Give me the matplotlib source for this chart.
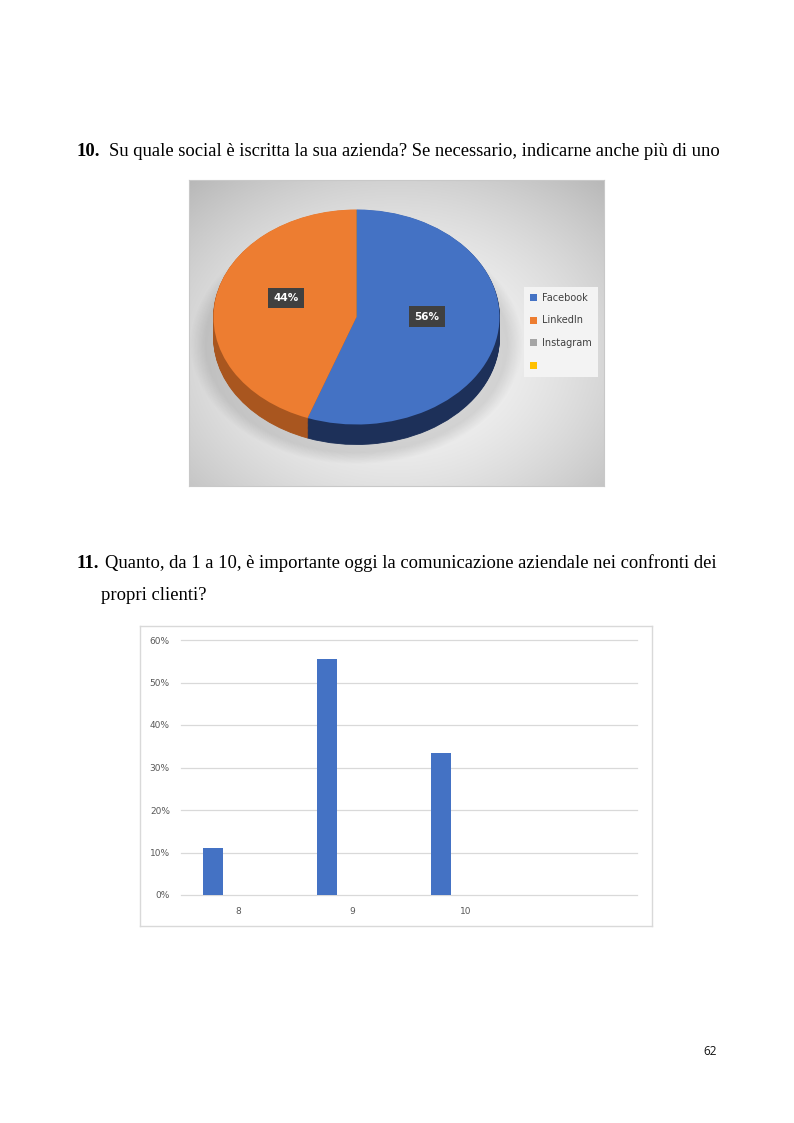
import numpy as np
import matplotlib
matplotlib.use("Agg")
import matplotlib.pyplot as plt
from matplotlib.patches import Ellipse, Patch

# ---------------- data ----------------
pie_labels = ["Facebook", "LinkedIn", "Instagram", ""]
pie_values = [5, 4, 0, 0]          # 56% / 44%
pie_colors = ["#4472C4", "#ED7D31", "#A5A5A5", "#FFC000"]
pie_side_colors = ["#1D3059", "#A9561F", "#6E6E6E", "#B08500"]

bar_categories = ["8", "9", "10", ""]
bar_values = [11.1, 55.6, 33.3, 0.0]
bar_yticks = [0, 10, 20, 30, 40, 50, 60]
bar_ytick_labels = ["0%", "10%", "20%", "30%", "40%", "50%", "60%"]

title10_num = "10."
title10_text = "Su quale social è iscritta la sua azienda? Se necessario, indicarne anche più di uno"
title11_num = "11."
title11_line1 = "Quanto, da 1 a 10, è importante oggi la comunicazione aziendale nei confronti dei"
title11_line2 = "propri clienti?"
page_number = "62"

# ---------------- figure ----------------
W, H = 794, 1123
fig = plt.figure(figsize=(W / 100, H / 100), dpi=100)
fig.patch.set_facecolor("white")


def px_axes(x0, y0, x1, y1, **kw):
    return fig.add_axes([x0 / W, 1 - y1 / H, (x1 - x0) / W, (y1 - y0) / H], **kw)


def fy(y):
    return 1 - y / H


serif = "Liberation Serif"
fs_title = 13.4
fig.text(77 / W, fy(156), title10_num, family=serif, weight="bold", fontsize=fs_title, va="baseline")
fig.text(109 / W, fy(156), title10_text, family=serif, fontsize=fs_title, va="baseline")
fig.text(77 / W, fy(568), title11_num, family=serif, weight="bold", fontsize=fs_title, va="baseline")
fig.text(105 / W, fy(568), title11_line1, family=serif, fontsize=fs_title, va="baseline")
fig.text(101 / W, fy(600), title11_line2, family=serif, fontsize=fs_title, va="baseline")
fig.text(717 / W, fy(1055), page_number, family="Open Sans", fontsize=8.5, ha="right", va="baseline",
         color="#111111")

# ---------------- pie chart box ----------------
bx0, by0, bx1, by1 = 189, 180, 604, 486
axbg = px_axes(bx0, by0, bx1, by1)
gx = np.linspace(-1, 1, 300)
gy = np.linspace(-1, 1, 230)
GX, GY = np.meshgrid(gx, gy)
R = np.sqrt((GX / 1.0) ** 2 + ((GY - 0.15) / 1.05) ** 2)
shade = np.clip(0.975 - 0.13 * R ** 1.7, 0, 1)
img = np.dstack([shade, shade, shade])
axbg.imshow(img, extent=[0, 1, 0, 1], aspect="auto", origin="upper")
axbg.set_xlim(0, 1)
axbg.set_ylim(0, 1)
axbg.set_xticks([])
axbg.set_yticks([])
for s in axbg.spines.values():
    s.set_color("#C8C8C8")
    s.set_linewidth(0.8)

# pie axes: unit circle -> ellipse rx, ry pixels centred at (cx, cy)
cx, cy, rx, ry, depth = 356.5, 317.0, 143.0, 107.5, 20.0
axp = px_axes(bx0, by0, bx1, by1)
axp.set_facecolor("none")
axp.patch.set_alpha(0)

# soft shadow
for i in range(14):
    k = i / 13
    axp.add_patch(Ellipse((0, -depth / ry - 0.06), 2 * (1.06 + 0.10 * (1 - k)),
                          2 * (1.02 + 0.10 * (1 - k)), facecolor="#808080",
                          alpha=0.016, lw=0, zorder=0))


def pct_fmt(p):
    return f"{p:.0f}%" if p > 0.5 else ""


nl = 24
for i in range(nl, 0, -1):
    off = -depth / ry * i / nl
    axp.pie(pie_values, colors=pie_side_colors, startangle=90, counterclock=False,
            radius=1, center=(0, off), wedgeprops=dict(linewidth=0.6, edgecolor=None))
    for w, c in zip(axp.patches[-len(pie_values):], pie_side_colors):
        w.set_edgecolor(c)

wedges, _, autotexts = axp.pie(pie_values, colors=pie_colors, startangle=90,
                               counterclock=False, radius=1, center=(0, 0),
                               autopct=pct_fmt, pctdistance=0.5,
                               wedgeprops=dict(linewidth=0))
for t in autotexts:
    t.set_color("white")
    t.set_fontsize(7.5)
    t.set_fontweight("bold")
    t.set_family("DejaVu Sans")
    t.set_position((t.get_position()[0], t.get_position()[1] + 0.09))
    if t.get_text():
        t.set_bbox(dict(boxstyle="square,pad=0.5", fc="#404040", ec="none"))

axp.set_aspect("auto")
axp.set_xlim(-(cx - bx0) / rx, (bx1 - cx) / rx)
axp.set_ylim(-(by1 - cy) / ry, (cy - by0) / ry)
axp.axis("off")

handles = [Patch(facecolor=c, edgecolor="none") for c in pie_colors]
leg = axbg.legend(handles, pie_labels, loc="upper left",
                  bbox_to_anchor=((524 - bx0) / (bx1 - bx0), 1 - (287 - by0) / (by1 - by0)),
                  frameon=True, fancybox=False, facecolor="#F3F3F3", edgecolor="none",
                  fontsize=7, handlelength=0.75, handleheight=0.75, handletextpad=0.5,
                  labelspacing=1.3, borderpad=0.6, borderaxespad=0, framealpha=1)
for t in leg.get_texts():
    t.set_color("#404040")
leg.set_zorder(10)

# ---------------- bar chart ----------------
axbox = px_axes(140, 626, 652, 926)
axbox.set_xticks([])
axbox.set_yticks([])
for s in axbox.spines.values():
    s.set_color("#D9D9D9")
    s.set_linewidth(1.0)

axb = px_axes(181, 640, 637, 895)
axb.set_facecolor("none")
x = np.arange(len(bar_categories))
axb.bar(x - 0.22, bar_values, width=0.175, color="#4472C4", zorder=3)
axb.set_xlim(-0.5, len(bar_categories) - 0.5)
axb.set_ylim(0, 60)
axb.set_yticks(bar_yticks)
axb.set_yticklabels(bar_ytick_labels)
axb.set_xticks(x)
axb.set_xticklabels(bar_categories)
axb.tick_params(axis="both", length=0, labelsize=6.5, labelcolor="#595959")
axb.tick_params(axis="y", pad=8)
axb.tick_params(axis="x", pad=9)
axb.grid(axis="y", color="#D9D9D9", linewidth=0.9, zorder=0)
for gl in axb.get_ygridlines():
    gl.set_clip_on(False)
for s in axb.spines.values():
    s.set_visible(False)

fig.savefig("out.png", dpi=100)
